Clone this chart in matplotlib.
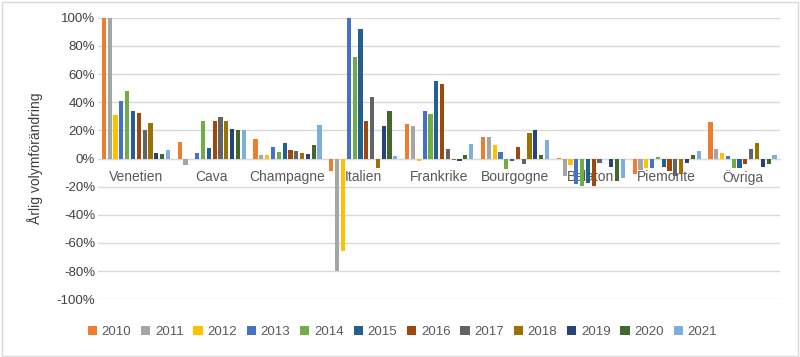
import numpy as np
import matplotlib.pyplot as plt
from matplotlib.patches import Rectangle

plt.rcParams['font.family'] = ['Liberation Sans', 'DejaVu Sans']

regions = ['Venetien', 'Cava', 'Champagne', 'Italien', 'Frankrike',
           'Bourgogne', 'Balaton', 'Piemonte', 'Övriga']
years = ['2010', '2011', '2012', '2013', '2014', '2015',
         '2016', '2017', '2018', '2019', '2020', '2021']

# change in % per region, one list per year
y2010 = [100, 11.5, 13.7, -9.2, 24.4, 15.0, 0.5, -10.7, 25.6]
y2011 = [100, -4.5, 2.6, -79.7, 22.8, 15.0, -12.3, -8.3, 6.6]
y2012 = [31, 0, 2.6, -65.5, -2.1, 9.5, -4.7, -6.4, 3.6]
y2013 = [41, 4.2, 8.3, 100, 33.7, 4.3, -18.0, -6.4, 1.9]
y2014 = [48, 27, 4.7, 72, 31.3, -7.8, -19.5, 1.0, -6.4]
y2015 = [34, 7.5, 10.8, 92, 55, -1.7, -17.5, -5.9, -7.1]
y2016 = [32, 26.7, 5.9, 26.7, 53, 8.5, -19.5, -8.8, -4.0]
y2017 = [20, 29.5, 5.0, 43.4, 6.6, -3.6, -3.5, -12.3, 6.6]
y2018 = [25, 27, 4.2, -6.4, -1.4, 17.8, 0, -11.2, 10.7]
y2019 = [4, 21, 3.3, 22.9, -1.7, 20.6, -5.9, -3.5, -5.7]
y2020 = [3, 20.5, 9.4, 34, 2.4, 2.4, -15.9, 2.4, -4.0]
y2021 = [6.4, 20, 24, 2, 10, 13.3, -14.0, 5.5, 2.6]

series = [y2010, y2011, y2012, y2013, y2014, y2015,
          y2016, y2017, y2018, y2019, y2020, y2021]
colors = ['#ED7D31', '#A5A5A5', '#FFC000', '#4472C4', '#70AD47', '#255E91',
          '#9E480E', '#636363', '#997300', '#264478', '#43682B', '#7CAFDD']

fig = plt.figure(figsize=(8, 3.57), dpi=100)
ax = fig.add_axes([0.1225, 0.162, 0.853, 0.788])

x = np.arange(len(regions))
step = 0.92 / len(years)
for k, vals in enumerate(series):
    off = (k - (len(years) - 1) / 2) * step
    ax.bar(x + off, vals, width=step * 0.72, color=colors[k], label=years[k], zorder=2)

ax.set_xlim(-0.5, len(regions) - 0.5)
ax.set_ylim(-100, 100)
ax.set_yticks(np.arange(-100, 101, 20))
ax.set_yticklabels(['%d%%' % v for v in np.arange(-100, 101, 20)], fontsize=9.5, color='#404040')
ax.yaxis.grid(True, color='#D9D9D9', linewidth=1, zorder=0)
ax.tick_params(axis='y', length=0, pad=2)

for s in ['top', 'right', 'left']:
    ax.spines[s].set_visible(False)
ax.spines['bottom'].set_position(('data', 0))
ax.spines['bottom'].set_color('#D9D9D9')
ax.spines['bottom'].set_zorder(1)
ax.set_xticks(x)
ax.set_xticklabels(regions, fontsize=10, color='#595959')
ax.tick_params(axis='x', length=0, pad=8)

ax.set_ylabel('Årlig volymförändring', fontsize=10, color='#404040', labelpad=10)

leg = fig.legend(loc='lower center', bbox_to_anchor=(0.503, 0.02), ncol=12, frameon=False,
                 fontsize=9.5, handlelength=0.7, handleheight=0.7, handletextpad=0.35,
                 columnspacing=0.75)
for t in leg.get_texts():
    t.set_color('#595959')

fig.patches.append(Rectangle((0.002, 0.004), 0.995, 0.99, transform=fig.transFigure,
                             fill=False, edgecolor='#D9D9D9', linewidth=1))

fig.savefig('out.png', dpi=100)
